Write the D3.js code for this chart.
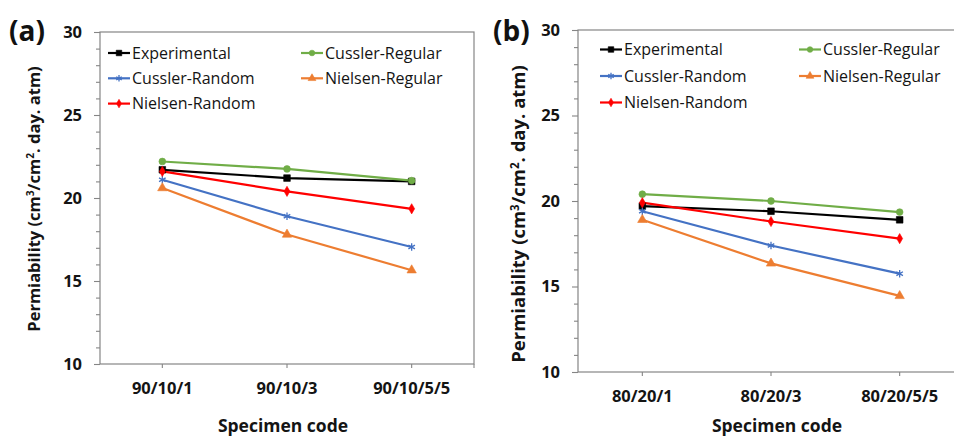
<!DOCTYPE html>
<html>
<head>
<meta charset="utf-8">
<script src="https://cdn.jsdelivr.net/npm/d3@7"></script>
<style>
  html, body { margin: 0; padding: 0; background: #fff; }
  svg { display: block; }
</style>
</head>
<body>
<svg id="chart" width="954" height="437"></svg>
<script>
// ---- Data ----
const seriesNames = ["Experimental", "Cussler-Regular", "Cussler-Random", "Nielsen-Regular", "Nielsen-Random"];
const seriesColors = ["#000000", "#70AD47", "#4472C4", "#ED7D31", "#FF0000"];
const yTicks = [10, 15, 20, 25, 30];

// Panel (a): 90/10 blends
const specimensA = ["90/10/1", "90/10/3", "90/10/5/5"];
const experimentalA = [21.7, 21.2, 21.0];
const cusslerRegularA = [22.2, 21.75, 21.05];
const cusslerRandomA = [21.1, 18.9, 17.05];
const nielsenRegularA = [20.6, 17.8, 15.65];
const nielsenRandomA = [21.6, 20.4, 19.35];

// Panel (b): 80/20 blends
const specimensB = ["80/20/1", "80/20/3", "80/20/5/5"];
const experimentalB = [19.7, 19.4, 18.9];
const cusslerRegularB = [20.4, 20.0, 19.35];
const cusslerRandomB = [19.4, 17.4, 15.75];
const nielsenRegularB = [18.9, 16.35, 14.45];
const nielsenRandomB = [19.9, 18.8, 17.8];

const svg = d3.select("#chart");
const axisGray = "#858585";
const textColor = "#141414";

function markerPath(name, size) {
  const type = {
    "Experimental": d3.symbolSquare,
    "Cussler-Regular": d3.symbolCircle,
    "Cussler-Random": d3.symbolAsterisk,
    "Nielsen-Regular": d3.symbolTriangle,
    "Nielsen-Random": d3.symbolDiamond
  }[name];
  return d3.symbol().type(type).size(size)();
}

function drawMarker(g, name, color, x, y, scale) {
  const sizes = {
    "Experimental": 44, "Cussler-Regular": 36, "Cussler-Random": 40,
    "Nielsen-Regular": 38, "Nielsen-Random": 30
  };
  const p = g.append("path")
    .attr("d", markerPath(name, sizes[name] * scale))
    .attr("transform", `translate(${x},${y})`);
  if (name === "Cussler-Random") {
    p.attr("fill", "none").attr("stroke", color).attr("stroke-width", 1.3);
  } else {
    p.attr("fill", color).attr("stroke", color).attr("stroke-width", 0.6);
  }
}

function drawPanel(cfg) {
  const { left, right, top, bottom, specimens, values, label, labelX, labelY,
          titleX, titleY, titleSize, xTitleY, tickLabelY, legendX, legendCol2X, legendY, legendStep } = cfg;

  const g = svg.append("g");

  const x = d3.scaleBand().domain(specimens).range([left, right]);
  const y = d3.scaleLinear().domain([10, 30]).range([bottom, top]);

  // Plot frame
  g.append("rect")
    .attr("x", left).attr("y", top)
    .attr("width", right - left).attr("height", bottom - top)
    .attr("fill", "none").attr("stroke", axisGray).attr("stroke-width", 1.2);

  // Y axis: major + minor ticks
  const yMinor = d3.range(10, 30.001, 1).filter(v => !yTicks.includes(v));
  g.append("g").attr("transform", `translate(${left},0)`)
    .call(d3.axisLeft(y).tickValues(yMinor).tickSize(4).tickFormat(""))
    .call(a => a.select(".domain").remove())
    .call(a => a.selectAll("line").attr("stroke", axisGray).attr("stroke-width", 1.1));
  const yAxis = g.append("g").attr("transform", `translate(${left},0)`)
    .call(d3.axisLeft(y).tickValues(yTicks).tickSize(6).tickPadding(12).tickFormat(d3.format("d")));
  yAxis.select(".domain").remove();
  yAxis.selectAll("line").attr("stroke", axisGray).attr("stroke-width", 1.1);
  yAxis.selectAll("text")
    .attr("font-family", "'Open Sans', sans-serif")
    .attr("font-weight", "bold").attr("font-size", 16.5).attr("fill", textColor);

  // X axis: ticks at category centers plus the right edge
  const xAxis = g.append("g").attr("transform", `translate(0,${bottom})`)
    .call(d3.axisBottom(x).tickSize(4).tickPadding(tickLabelY));
  xAxis.select(".domain").remove();
  xAxis.selectAll("line").attr("stroke", axisGray).attr("stroke-width", 1.1);
  xAxis.selectAll("text")
    .attr("font-family", "'Open Sans', sans-serif")
    .attr("font-weight", "bold").attr("font-size", 16.5).attr("fill", textColor);
  g.append("line")
    .attr("x1", right).attr("x2", right).attr("y1", bottom).attr("y2", bottom + 4)
    .attr("stroke", axisGray).attr("stroke-width", 1.1);

  // Series lines and markers
  const line = d3.line().x((d, i) => x(specimens[i]) + x.bandwidth() / 2).y(d => y(d));
  const order = [0, 1, 2, 3, 4];
  order.forEach(si => {
    g.append("path").datum(values[si])
      .attr("d", line).attr("fill", "none")
      .attr("stroke", seriesColors[si]).attr("stroke-width", 2.2)
      .attr("stroke-linejoin", "round");
  });
  order.forEach(si => {
    values[si].forEach((v, i) => {
      drawMarker(g, seriesNames[si], seriesColors[si], x(specimens[i]) + x.bandwidth() / 2, y(v), 1);
    });
  });

  // Legend, two columns
  seriesNames.forEach((name, i) => {
    const col = i % 2, row = Math.floor(i / 2);
    const lx = col === 0 ? legendX : legendCol2X;
    const ly = legendY + row * legendStep;
    g.append("line")
      .attr("x1", lx).attr("x2", lx + 22).attr("y1", ly).attr("y2", ly)
      .attr("stroke", seriesColors[i]).attr("stroke-width", 2.2);
    drawMarker(g, name, seriesColors[i], lx + 11, ly, 0.7);
    g.append("text")
      .attr("x", lx + 24).attr("y", ly).attr("dy", "0.36em")
      .attr("font-family", "'Open Sans', sans-serif")
      .attr("font-size", 16).attr("fill", textColor)
      .text(name);
  });

  // Axis titles
  g.append("text")
    .attr("transform", `translate(${titleX},${titleY}) rotate(-90)`)
    .attr("text-anchor", "middle")
    .attr("font-family", "'Open Sans', sans-serif")
    .attr("font-weight", "bold").attr("font-size", titleSize).attr("fill", textColor)
    .call(t => {
      t.append("tspan").text("Permiability (cm");
      t.append("tspan").text("3").attr("font-size", titleSize * 0.62).attr("dy", "-0.55em");
      t.append("tspan").text("/cm").attr("dy", "0.34em");
      t.append("tspan").text("2").attr("font-size", titleSize * 0.62).attr("dy", "-0.55em");
      t.append("tspan").text(". day. atm)").attr("dy", "0.34em");
    });

  g.append("text")
    .attr("x", (left + Math.min(right, 954)) / 2 + cfg.xTitleShift).attr("y", xTitleY)
    .attr("text-anchor", "middle")
    .attr("font-family", "'Open Sans', sans-serif")
    .attr("font-weight", "bold").attr("font-size", 17.5).attr("fill", textColor)
    .text("Specimen code");

  // Panel label
  g.append("text")
    .attr("x", labelX).attr("y", labelY)
    .attr("font-family", "'Open Sans', sans-serif")
    .attr("font-weight", "bold").attr("font-size", 28).attr("fill", "#111")
    .text(label);
}

drawPanel({
  left: 100, right: 474, top: 32, bottom: 364,
  specimens: specimensA,
  values: [experimentalA, cusslerRegularA, cusslerRandomA, nielsenRegularA, nielsenRandomA],
  label: "(a)", labelX: 9, labelY: 41,
  titleX: 40, titleY: 199, titleSize: 16.5,
  xTitleY: 432, xTitleShift: -4, tickLabelY: 14,
  legendX: 108, legendCol2X: 301, legendY: 53, legendStep: 25.3
});

drawPanel({
  left: 578, right: 964, top: 30, bottom: 372,
  specimens: specimensB,
  values: [experimentalB, cusslerRegularB, cusslerRandomB, nielsenRegularB, nielsenRandomB],
  label: "(b)", labelX: 493, labelY: 41,
  titleX: 525, titleY: 214, titleSize: 18.5,
  xTitleY: 432, xTitleShift: 11, tickLabelY: 14,
  legendX: 600, legendCol2X: 799, legendY: 49.5, legendStep: 26.5
});
</script>
</body>
</html>
